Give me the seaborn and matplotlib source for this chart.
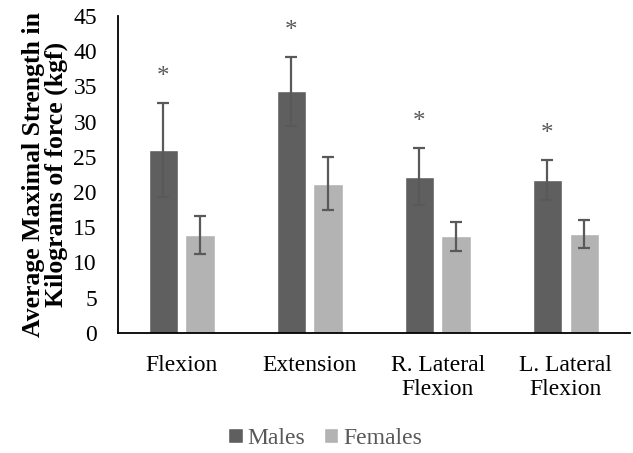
import matplotlib
matplotlib.use("Agg")
import matplotlib.pyplot as plt
import seaborn as sns
import pandas as pd

# data
movements = ["Flexion", "Extension", "R. Lateral\nFlexion", "L. Lateral\nFlexion"]
males = [26.0, 34.3, 22.2, 21.7]
females = [13.9, 21.2, 13.7, 14.0]
males_err = [6.7, 4.9, 4.1, 2.9]
females_err = [2.7, 3.8, 2.0, 2.0]
significant = [True, True, True, True]

df = pd.DataFrame({
    "movement": movements * 2,
    "strength": males + females,
    "sex": ["Males"] * 4 + ["Females"] * 4,
})

sns.set_theme(style="white")
plt.rcParams["font.family"] = ["Liberation Serif", "DejaVu Serif"]

fig, ax = plt.subplots(figsize=(6.33, 4.53), dpi=100)
fig.subplots_adjust(left=0.186, right=0.995, top=0.965, bottom=0.265)

sns.barplot(data=df, x="movement", y="strength", hue="sex",
            palette={"Males": "#5f5f5f", "Females": "#b3b3b3"},
            width=0.575, gap=0.2, errorbar=None, ax=ax)

# error bars on top of bars, using the bar positions seaborn placed
errs = males_err + females_err
for bar, e in zip(ax.patches[:8], errs):
    cx = bar.get_x() + bar.get_width() / 2
    ax.errorbar(cx, bar.get_height(), yerr=e, color="#595959",
                capsize=4.5, elinewidth=1.6, capthick=1.6)

# asterisks above male bars
for bar, e, sig in zip(ax.patches[:4], males_err, significant):
    if sig:
        cx = bar.get_x() + bar.get_width() / 2
        ax.text(cx, bar.get_height() + e + 3.6, "*", ha="center", va="center",
                fontsize=18, color="#595959")

ax.set_ylim(0, 45)
ax.set_yticks(range(0, 46, 5))
ax.set_xlim(-0.5, 3.5)
ax.set_xlabel("")
ax.set_ylabel("Average Maximal Strength in\nKilograms of force (kgf)",
              fontsize=18.5, fontweight="bold", color="black", labelpad=4,
              linespacing=0.95)
ax.tick_params(axis="both", labelsize=17, colors="black", length=0)
ax.tick_params(axis="y", pad=15)
ax.tick_params(axis="x", pad=16)

sns.despine(ax=ax)
for s in ["left", "bottom"]:
    ax.spines[s].set_color("black")
    ax.spines[s].set_linewidth(1.3)

leg = ax.legend(loc="upper center", bbox_to_anchor=(0.405, -0.255), ncol=2,
                frameon=False, fontsize=17, handlelength=0.6, handleheight=0.6,
                handletextpad=0.2, columnspacing=0.8, borderpad=0.1)
for t in leg.get_texts():
    t.set_color("#595959")

fig.savefig("out.png", dpi=100)
